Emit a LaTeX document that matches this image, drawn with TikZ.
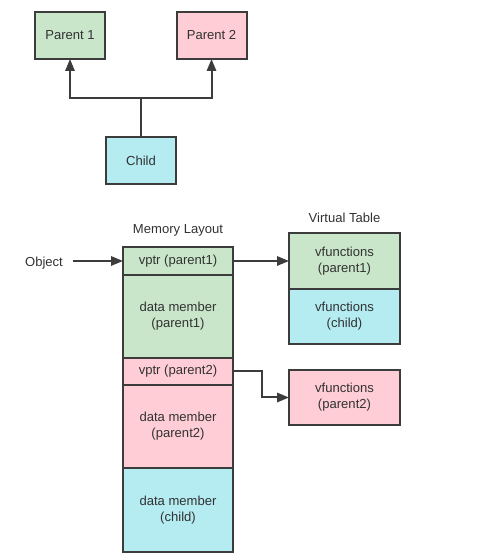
\documentclass[tikz,border=0pt]{standalone}
\usepackage{fontspec}
\setmainfont{Liberation Sans}
\usetikzlibrary{positioning, arrows.meta}

\definecolor{pgreen}{RGB}{201,230,202}
\definecolor{ppink}{RGB}{255,205,213}
\definecolor{pcyan}{RGB}{180,236,242}
\definecolor{pline}{RGB}{60,60,60}
\definecolor{ptext}{RGB}{50,50,50}

\tikzset{
  box/.style={draw=pline, line width=1.5pt, text=ptext, align=center,
    inner sep=0pt, outer sep=0pt, font=\fontsize{9.8}{12}\selectfont},
  cell/.style={box, minimum width=82.5pt},
  vcell/.style={box, minimum width=83.25pt},
  caption/.style={text=ptext, font=\fontsize{9.8}{12}\selectfont},
  link/.style={draw=pline, line width=1.5pt, -{Triangle[length=9pt,width=7pt]}}
}

\begin{document}
\begin{tikzpicture}[x=0.75pt, y=0.75pt, node distance=0pt]
  \useasboundingbox (0,0) rectangle (478,560);

  % inheritance
  \node[box, fill=pgreen, minimum width=52.5pt, minimum height=35.25pt] (P1) at (70,524.5) {Parent 1};
  \node[box, fill=ppink, minimum width=52.5pt, minimum height=35.25pt] (P2) at (211.5,524.5) {Parent 2};
  \node[box, fill=pcyan, minimum width=52.5pt, minimum height=35.25pt] (CHILD) at (141,399.5) {Child};
  \coordinate (FORK) at (141,462);

  \draw[draw=pline, line width=1.5pt] (CHILD.north) -- (FORK);
  \draw[link] (FORK) -| (P1.south);
  \draw[link] (FORK) -| (P2.south);

  % memory layout
  \node[caption] (MEM) at (178,330) {Memory Layout};
  \node[cell, fill=pgreen, minimum height=21pt] (VP1) at (178,299) {vptr (parent1)};
  \node[cell, fill=pgreen, minimum height=62.25pt, below=of VP1] (DM1) {data member\\(parent1)};
  \node[cell, fill=ppink, minimum height=20.25pt, below=of DM1] (VP2) {vptr (parent2)};
  \node[cell, fill=ppink, minimum height=62.25pt, below=of VP2] (DM2) {data member\\(parent2)};
  \node[cell, fill=pcyan, minimum height=63pt, below=of DM2] (DMC) {data member\\(child)};

  \node[caption] (OBJ) at (44,297) {Object};

  % virtual table
  \node[caption] (VT) at (344.5,342) {Virtual Table};
  \node[vcell, fill=pgreen, minimum height=42pt] (VF1) at (344.5,299) {vfunctions\\(parent1)};
  \node[vcell, fill=pcyan, minimum height=41.25pt, below=of VF1] (VFC) {vfunctions\\(child)};
  \node[vcell, fill=ppink, minimum height=41.25pt] (VF2) at (344.5,162.5) {vfunctions\\(parent2)};

  \draw[link] ([xshift=4pt]OBJ.east |- VP1.west) -- (VP1.west);
  \draw[link] (VP1.east) -- (VF1.west);
  \draw[link] (VP2.east) -- ++(29,0) |- (VF2.west);
\end{tikzpicture}
\end{document}
